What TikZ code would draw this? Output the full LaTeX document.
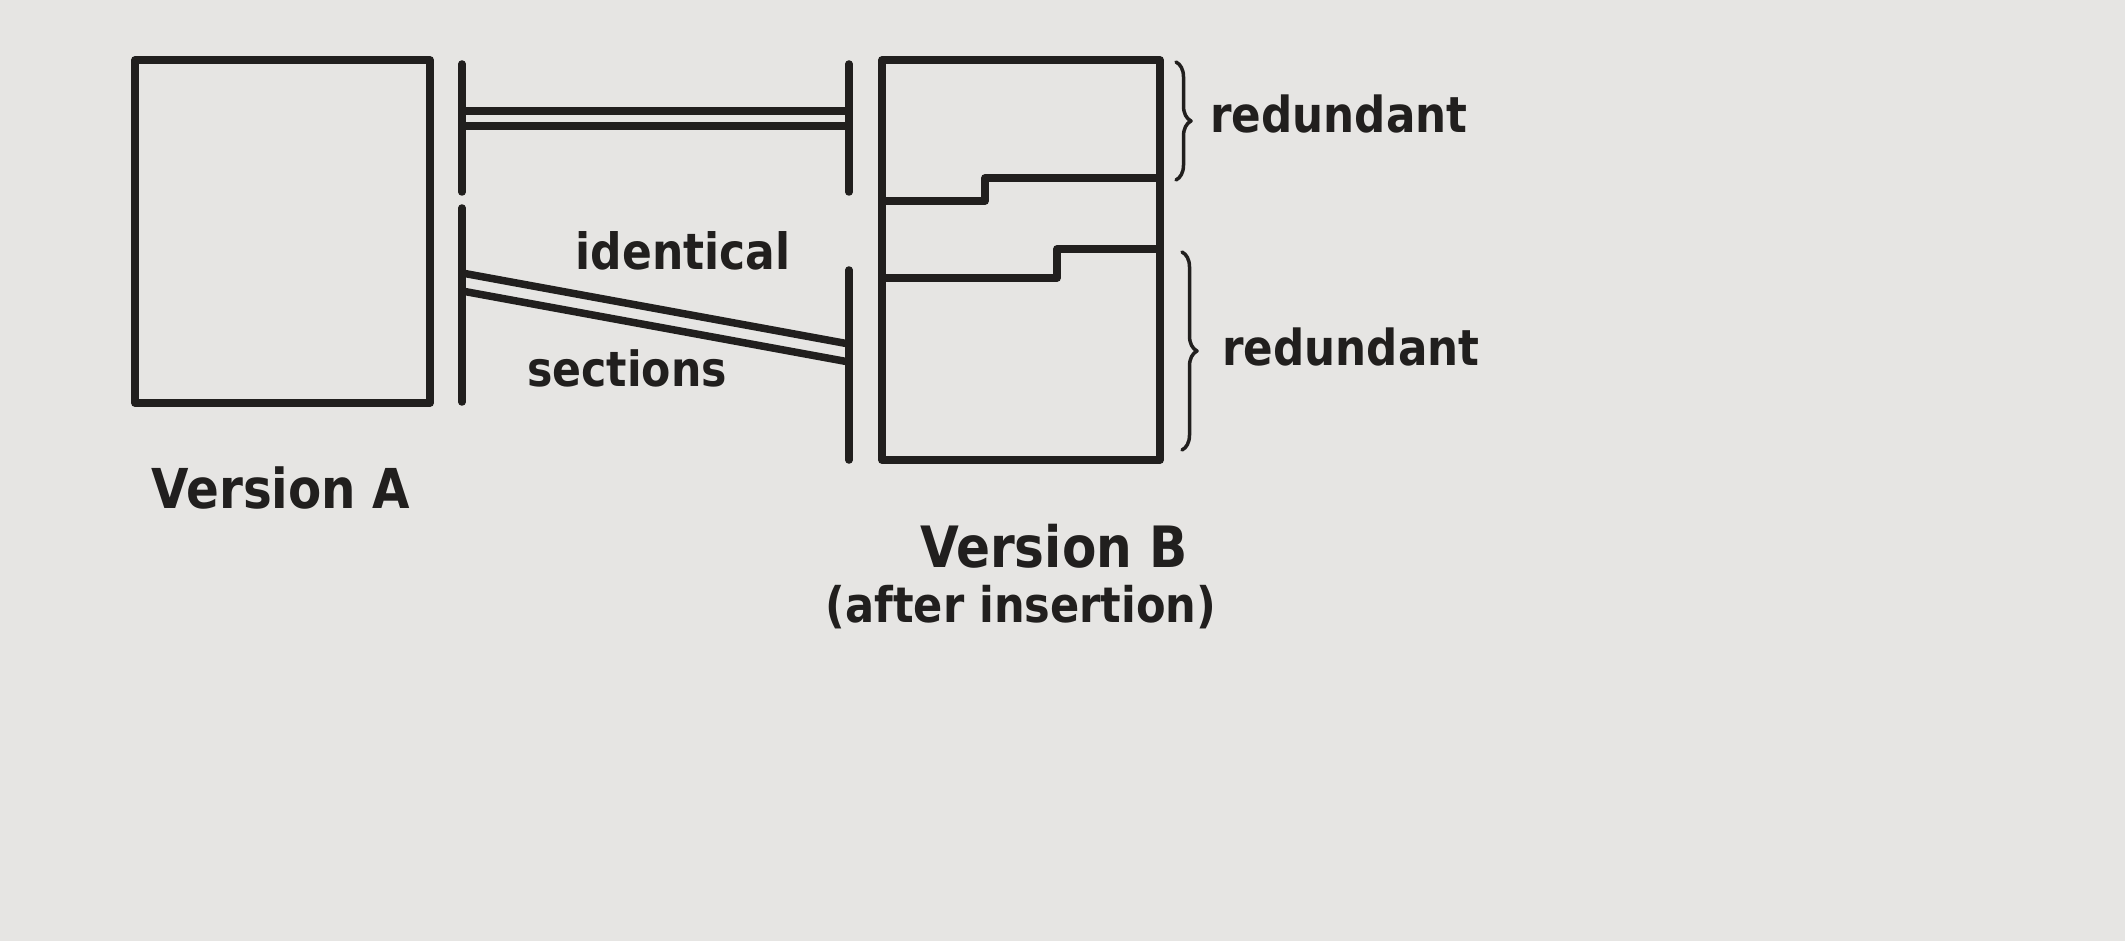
\documentclass[tikz,border=0pt]{standalone}
\usepackage{fontspec}
\setmainfont{DejaVu Sans}
\newfontfamily\lblfont[FakeStretch=0.88]{DejaVu Sans Bold}
\usetikzlibrary{decorations.pathreplacing}
\definecolor{paper}{RGB}{230,229,227}
\definecolor{ink}{RGB}{33,31,30}
\begin{document}
\begin{tikzpicture}[x=1pt,y=-1pt, line cap=round, line join=round,
  heavy/.style={draw=ink, line width=7.5pt},
  boxnode/.style={heavy, inner sep=0pt},
  bracecurve/.style={draw=ink, line width=3.5pt, decorate,
    decoration={brace, amplitude=15pt, aspect=0.5}},
  lbl/.style={inner sep=0pt, text=ink, anchor=base}]
\fill[paper] (0,0) rectangle (2125,941);
\useasboundingbox (0,0) rectangle (2125,941);

% Version A box
\node[boxnode, minimum width=295pt, minimum height=343pt] (A) at (282.5,231.5) {};
% Version B box
\node[boxnode, minimum width=278pt, minimum height=400pt] (B) at (1021,260) {};

% vertical bars
\coordinate (l1t) at (462,64);  \coordinate (l1b) at (462,192);
\coordinate (l2t) at (462,208); \coordinate (l2b) at (462,402);
\coordinate (r1t) at (849,64);  \coordinate (r1b) at (849,192);
\coordinate (r2t) at (849,270); \coordinate (r2b) at (849,460);
\draw[heavy] (l1t) -- (l1b);
\draw[heavy] (l2t) -- (l2b);
\draw[heavy] (r1t) -- (r1b);
\draw[heavy] (r2t) -- (r2b);

% double horizontal lines
\coordinate (h1a) at (462,111); \coordinate (h1b) at (849,111);
\coordinate (h2a) at (462,126); \coordinate (h2b) at (849,126);
\draw[heavy] (h1a) -- (h1b);
\draw[heavy] (h2a) -- (h2b);

% double slanted lines
\coordinate (s1a) at (462,273); \coordinate (s1b) at (849,344);
\coordinate (s2a) at (462,291); \coordinate (s2b) at (849,362);
\draw[heavy] (s1a) -- (s1b);
\draw[heavy] (s2a) -- (s2b);

% steps inside Version B
\coordinate (st1a) at (882,201); \coordinate (st1b) at (985,178); \coordinate (st1c) at (1160,178);
\coordinate (st2a) at (882,278); \coordinate (st2b) at (1057,249); \coordinate (st2c) at (1160,249);
\draw[heavy, line cap=butt] (st1a) -| (st1b) -- (st1c);
\draw[heavy, line cap=butt] (st2a) -| (st2b) -- (st2c);

% braces
\coordinate (b1t) at (1176,62);  \coordinate (b1b) at (1176,180);
\coordinate (b2t) at (1182,252); \coordinate (b2b) at (1182,450);
\draw[bracecurve] (b1t) -- (b1b);
\draw[bracecurve] (b2t) -- (b2b);

% labels
\node[lbl, font=\lblfont\fontsize{50}{60}\selectfont] (ident) at (683,270) {identical};
\node[lbl, font=\lblfont\fontsize{48.5}{58}\selectfont] (sect) at (627,386) {sections};
\node[lbl, font=\lblfont\fontsize{49.6}{60}\selectfont] (red1) at (1339,133) {redundant};
\node[lbl, font=\lblfont\fontsize{49.6}{60}\selectfont] (red2) at (1351,365) {redundant};
\node[lbl, font=\lblfont\fontsize{55}{66}\selectfont] (verA) at (281,508) {Version A};
\node[lbl, font=\lblfont\fontsize{57}{68}\selectfont] (verB) at (1054,567) {Version B};
\node[lbl, font=\lblfont\fontsize{49}{60}\selectfont] (after) at (1021,622) {(after insertion)};
\end{tikzpicture}
\end{document}
